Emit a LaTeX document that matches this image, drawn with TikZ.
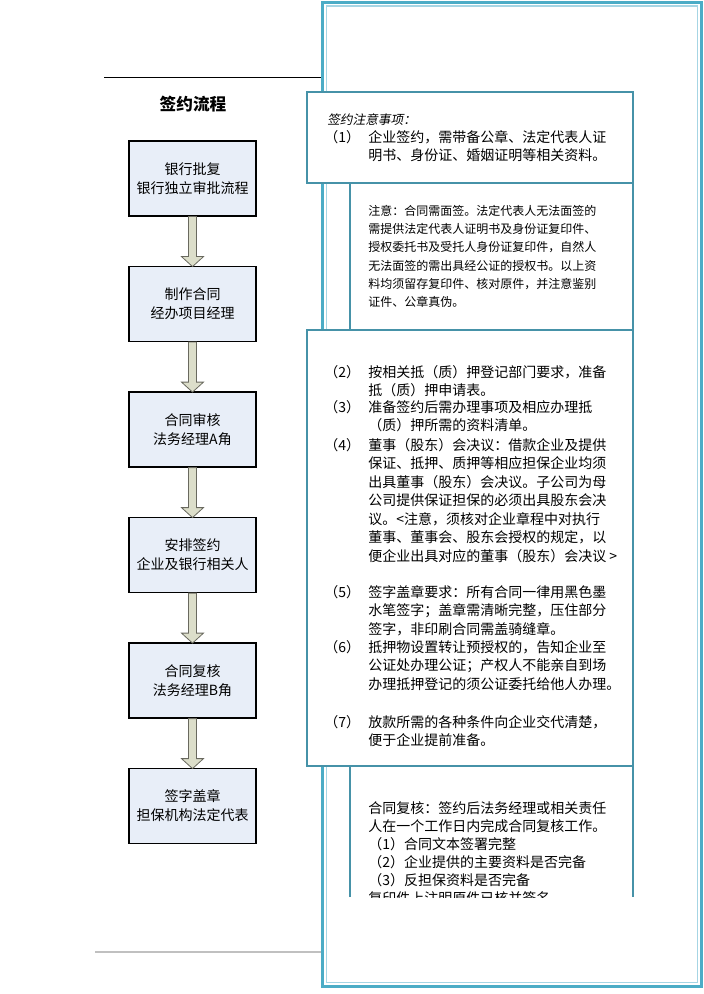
\documentclass[tikz,border=0pt]{standalone}
\usepackage{fontspec}
\setmainfont{Noto Sans CJK SC}
\newfontfamily\cjkslant[FakeSlant=0.2]{Noto Sans CJK SC}
\usepackage{tikz}
\usepackage{color}

\definecolor{framecol}{RGB}{75,172,198}
\definecolor{framelite}{RGB}{166,213,228}
\definecolor{notecol}{RGB}{70,146,168}
\definecolor{boxfill}{RGB}{232,238,248}
\definecolor{arrowfill}{RGB}{220,222,202}
\definecolor{arrowline}{RGB}{105,105,95}
\definecolor{rulegray}{RGB}{192,192,192}

\tikzset{
  flowbox/.style={draw=black, fill=boxfill, line width=0.9pt, minimum width=95.25pt, minimum height=56.25pt,
    inner sep=0pt, align=center, font=\fontsize{10.5}{14.25}\selectfont},
  blockarrow/.style={draw=arrowline, fill=arrowfill, line width=0.6pt},
  notebox/.style={draw=notecol, fill=white, line width=0.9pt},
  notetxt/.style={anchor=north west, inner sep=0pt, align=left, font=\fontsize{10.5}{13.9}\selectfont},
  numtxt/.style={anchor=west, inner sep=0pt, font=\fontsize{10.5}{13.9}\selectfont},
}

\begin{document}
\begin{tikzpicture}[x=0.75pt,y=0.75pt,yscale=-1,xscale=1]
    \path[use as bounding box] (0,0) rectangle (703,994);

    %Straight Lines
    \draw [line width=0.75pt]   (104,78) -- (322,78) ;
    \draw [color=rulegray, line width=1.5pt]   (95,952) -- (322,952) ;

    %Shape: Page frame
    \draw [color=framecol, line width=2.25pt]   (322.5,2.5) rectangle (701,986.5) ;
    \draw [color=framelite, line width=1.1pt]   (326.7,6) rectangle (697.5,982.5) ;

    % Text Node
    \node (title) at (193,104) {\bfseries\fontsize{12.5}{15}\selectfont 签约流程};

    %Flow boxes
    \foreach \y/\name/\txt in {178.5/b1/{银行批复\\银行独立审批流程}, 304/b2/{制作合同\\经办项目经理},
        429.5/b3/{合同审核\\法务经理A角}, 555/b4/{安排签约\\企业及银行相关人},
        680.5/b5/{合同复核\\法务经理B角}, 806/b6/{签字盖章\\担保机构法定代表}}
      \node [flowbox] (\name) at (192.5,\y) {\txt};

    %Block arrows
    \foreach \a in {1,...,5}
      \draw [blockarrow] (b\a.south) ++(-4,0) -- ++(0,40) -- ++(-7,0) -- ++(11,10) -- ++(11,-10) -- ++(-7,0) -- ++(0,-40) -- cycle ;

    %Shape: Note boxes (back)
    \draw [notebox]   (350,183) rectangle (633,330) ;
    \draw [notecol, line width=0.9pt]   (350,897) -- (350,766) -- (633,766) -- (633,897) ;
    %Shape: Note boxes (front)
    \draw [notebox]   (307,92) rectangle (633,183) ;
    \draw [notebox]   (307,330) rectangle (633,766) ;

    % Text Node
    \node (head) [anchor=west, inner sep=0pt] at (327,120) {\cjkslant\fontsize{9.5}{12}\selectfont 签约注意事项：};
    \node (n1) [numtxt] at (324,137) {（1）};
    \node (t1) [notetxt] at (368,130) {企业签约，需带备公章、法定代表人证\\明书、身份证、婚姻证明等相关资料。};

    % Text Node
    \node (warn) [notetxt, font=\fontsize{9}{13.7}\selectfont] at (368,205) {注意：合同需面签。法定代表人无法面签的\\需提供法定代表人证明书及身份证复印件、\\授权委托书及受托人身份证复印件，自然人\\无法面签的需出具经公证的授权书。以上资\\料均须留存复印件、核对原件，并注意鉴别\\证件、公章真伪。};

    % Text Node
    \node (n2) [numtxt] at (324,372) {（2）};
    \node (t2) [notetxt] at (368,365) {按相关抵（质）押登记部门要求，准备\\抵（质）押申请表。};
    \node (n3) [numtxt] at (324,407) {（3）};
    \node (t3) [notetxt] at (368,400) {准备签约后需办理事项及相应办理抵\\（质）押所需的资料清单。};
    \node (n4) [numtxt] at (324,445) {（4）};
    \node (t4) [notetxt] at (368,438) {董事（股东）会决议：借款企业及提供\\保证、抵押、质押等相应担保企业均须\\出具董事（股东）会决议。子公司为母\\公司提供保证担保的必须出具股东会决\\议。<注意，须核对企业章程中对执行\\董事、董事会、股东会授权的规定，以\\便企业出具对应的董事（股东）会决议 >};
    \node (n5) [numtxt] at (324,592) {（5）};
    \node (t5) [notetxt] at (368,585) {签字盖章要求：所有合同一律用黑色墨\\水笔签字；盖章需清晰完整，压住部分\\签字，非印刷合同需盖骑缝章。};
    \node (n6) [numtxt] at (324,647) {（6）};
    \node (t6) [notetxt] at (368,640) {抵押物设置转让预授权的，告知企业至\\公证处办理公证；产权人不能亲自到场\\办理抵押登记的须公证委托给他人办理。};
    \node (n7) [numtxt] at (324,722) {（7）};
    \node (t7) [notetxt] at (368,715) {放款所需的各种条件向企业交代清楚，\\便于企业提前准备。};

    % Text Node (cut at the lower edge)
    \begin{scope}
      \clip (340,766) rectangle (640,897);
      \node (review) [notetxt, font=\fontsize{10.5}{13.5}\selectfont] at (368,801) {合同复核：签约后法务经理或相关责任\\人在一个工作日内完成合同复核工作。\\（1）合同文本签署完整\\（2）企业提供的主要资料是否完备\\（3）反担保资料是否完备\\复印件上注明原件已核并签名};
    \end{scope}

\end{tikzpicture}
\end{document}
